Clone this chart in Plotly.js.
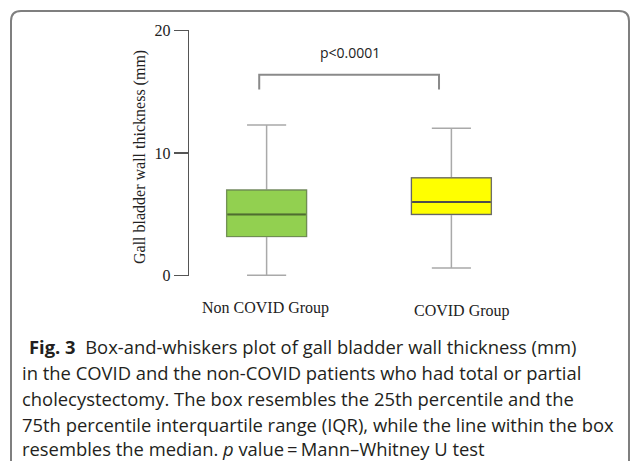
<!DOCTYPE html>
<html>
<head>
<meta charset="utf-8">
<script src="https://cdn.plot.ly/plotly-3.0.1.min.js"></script>
<style>html,body{margin:0;padding:0;background:#fff;}#chart{width:630px;height:461px;}</style>
</head>
<body>
<div id="chart"></div>
<script>
// ---- data ----
var groups = ["Non COVID Group", "COVID Group"];
var lowerWhisker = [0.0, 0.6];
var q1 = [3.17, 4.98];
var medians = [4.98, 5.99];
var q3 = [6.97, 7.97];
var upperWhisker = [12.28, 12.03];
var fillColors = ["#92d050", "#ffff00"];
var outlineColors = ["#6f8f50", "#666666"];
var medianColors = ["#4f6d2f", "#4d4d4d"];
var pLabel = "p<0.0001";
var bracketTop = 16.4;
var bracketLegBottom = 15.2;
var yTicks = [0, 10, 20];
var yTitle = "Gall bladder wall thickness (mm)";
var captionLines = [
  "<b>Fig. 3</b>  Box-and-whiskers plot of gall bladder wall thickness (mm)",
  "in the COVID and the non-COVID patients who had total or partial",
  "cholecystectomy. The box resembles the 25th percentile and the",
  "75th percentile interquartile range (IQR), while the line within the box",
  "resembles the median. <i>p</i> value\u2009=\u2009Mann\u2013Whitney U test"
];

// ---- layout geometry ----
var W = 630, H = 461;
var mL = 189, mR = 101, mT = 30, mB = 185;
var pw = W - mL - mR, ph = H - mT - mB;
function px(x) { return (x - mL) / pw; }
function py(y) { return 1 - (y - mT) / ph; }

var boxWidth = 0.432;
var traces = [];
groups.forEach(function (g, i) {
  // whiskers (light grey)
  traces.push({
    type: "box", x: [i], q1: [q1[i]], median: [medians[i]], q3: [q3[i]],
    lowerfence: [lowerWhisker[i]], upperfence: [upperWhisker[i]],
    width: boxWidth, whiskerwidth: 0.49,
    fillcolor: fillColors[i], line: { color: "#a9a9a9", width: 1.5 },
    boxpoints: false, hoverinfo: "skip", showlegend: false
  });
  // box body
  traces.push({
    type: "box", x: [i], q1: [q1[i]], median: [medians[i]], q3: [q3[i]],
    lowerfence: [q1[i]], upperfence: [q3[i]],
    width: boxWidth, whiskerwidth: 0,
    fillcolor: fillColors[i], line: { color: outlineColors[i], width: 1.2 },
    boxpoints: false, hoverinfo: "skip", showlegend: false
  });
  // median line
  traces.push({
    type: "scatter", mode: "lines",
    x: [i - boxWidth / 2 + 0.004, i + boxWidth / 2 - 0.004], y: [medians[i], medians[i]],
    line: { color: medianColors[i], width: 2 }, hoverinfo: "skip", showlegend: false
  });
});
// significance bracket
var bx0 = -0.04, bx1 = 0.933;
traces.push({
  type: "scatter", mode: "lines",
  x: [bx0, bx0, bx1, bx1], y: [bracketLegBottom, bracketTop, bracketTop, bracketLegBottom],
  line: { color: "#8a8a8a", width: 2 }, hoverinfo: "skip", showlegend: false
});

var annotations = [];
annotations.push({
  xref: "x", yref: "y", x: 0.45, y: 18.2, text: pLabel, showarrow: false,
  font: { family: "Open Sans", size: 14, color: "#222" }
});
var labelShift = [[-1, 297], [11, 300]];
groups.forEach(function (g, i) {
  annotations.push({
    xref: "x", yref: "paper", x: i, y: py(labelShift[i][1]), xanchor: "center", yanchor: "top",
    xshift: labelShift[i][0], text: g, showarrow: false,
    font: { family: "Liberation Serif", size: 16, color: "#222" }
  });
});
var capY = [346, 372, 398, 424, 448];
var capX = [27, 20, 20, 20, 20];
captionLines.forEach(function (t, i) {
  annotations.push({
    xref: "paper", yref: "paper", x: px(capX[i]), y: py(capY[i]), xanchor: "left", yanchor: "middle",
    text: t, showarrow: false, align: "left",
    font: { family: "Open Sans", size: 18.4, color: "#231f20" }
  });
});
annotations.push({
  xref: "paper", yref: "paper", x: px(140), y: py(157), xanchor: "center", yanchor: "middle",
  text: yTitle, textangle: -90, showarrow: false,
  font: { family: "Liberation Serif", size: 16, color: "#222" }
});

// rounded frame
var fx0 = 11, fy0 = 11, fx1 = 629, fy1 = 468, r = 10;
function P(x, y) { return px(x) + "," + py(y); }
var framePath = "M" + P(fx0, fy1) + " L" + P(fx0, fy0 + r) + " Q" + P(fx0, fy0) + " " + P(fx0 + r, fy0) +
  " L" + P(fx1 - r, fy0) + " Q" + P(fx1, fy0) + " " + P(fx1, fy0 + r) + " L" + P(fx1, fy1);

var layout = {
  width: W, height: H,
  margin: { l: mL, r: mR, t: mT, b: mB, pad: 0 },
  paper_bgcolor: "#fff", plot_bgcolor: "#fff",
  showlegend: false, boxmode: "overlay",
  xaxis: { range: [-0.42, 1.42], showline: false, showgrid: false, zeroline: false,
    showticklabels: false, ticks: "", fixedrange: true },
  yaxis: { range: [-0.06, 20.06], tickvals: yTicks, ticks: "outside", ticklen: 14, tickwidth: 1.3,
    tickcolor: "#555", showline: true, linecolor: "#555", linewidth: 1.3,
    showgrid: false, zeroline: false, fixedrange: true,
    tickfont: { family: "Liberation Serif", size: 16, color: "#222" } },
  annotations: annotations,
  shapes: [{ type: "path", xref: "paper", yref: "paper", path: framePath,
    line: { color: "#7f7f7f", width: 2 } }]
};

Plotly.newPlot("chart", traces, layout, { displayModeBar: false, staticPlot: true });
</script>
</body>
</html>
